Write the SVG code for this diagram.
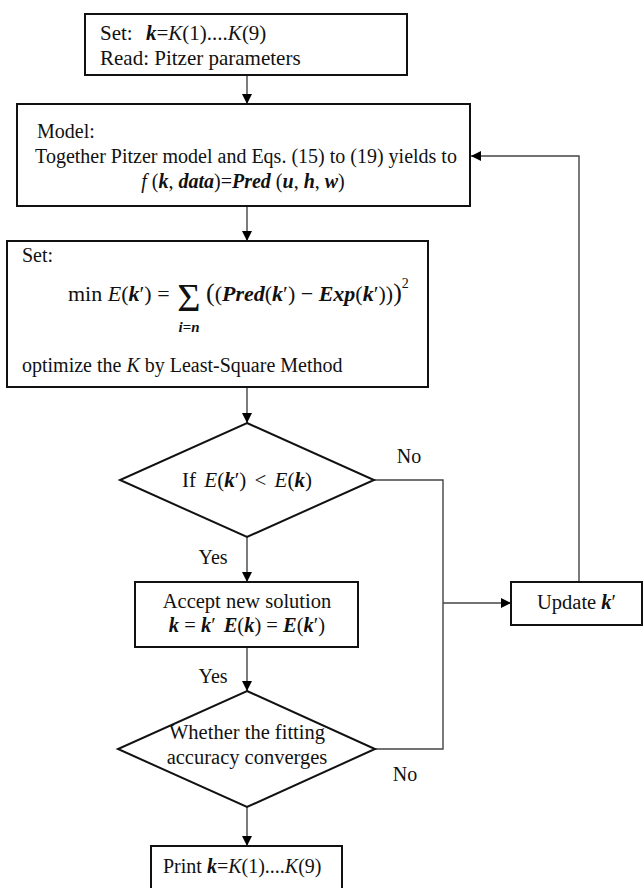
<svg xmlns="http://www.w3.org/2000/svg" width="644" height="888" viewBox="0 0 644 888">
<defs>
<style>
.box{fill:#fff;stroke:#111;stroke-width:2}
.conn{fill:none;stroke:#444;stroke-width:1.4}
.t{font-family:"Liberation Serif","Times New Roman",serif;font-size:20px;fill:#111}
.c{font-family:"Liberation Serif","DejaVu Serif",serif;font-size:20.5px;fill:#111}
.bi{font-weight:bold;font-style:italic}
.i{font-style:italic}
.lbl{font-family:"Liberation Serif","Times New Roman",serif;font-size:20px;fill:#111}
</style>
<marker id="ah" viewBox="0 0 10 10" refX="10" refY="5" markerWidth="10" markerHeight="10" markerUnits="userSpaceOnUse" orient="auto">
<path d="M0,0 L10,5 L0,10 z" fill="#000"/>
</marker>
</defs>
<rect width="644" height="888" fill="#fff"/>

<g id="connectors">
<line class="conn" x1="247" y1="75" x2="247" y2="104" marker-end="url(#ah)"/>
<line class="conn" x1="247" y1="206" x2="247" y2="241" marker-end="url(#ah)"/>
<line class="conn" x1="247" y1="387" x2="247" y2="423" marker-end="url(#ah)"/>
<line class="conn" x1="247" y1="537" x2="247" y2="582" marker-end="url(#ah)"/>
<line class="conn" x1="247" y1="647" x2="247" y2="691" marker-end="url(#ah)"/>
<line class="conn" x1="247" y1="807" x2="247" y2="846" marker-end="url(#ah)"/>
<polyline class="conn" points="374,480 443,480 443,749 375,749"/>
<line class="conn" x1="443" y1="603" x2="511" y2="603" marker-end="url(#ah)"/>
<polyline class="conn" points="579,582 579,156 471,156" marker-end="url(#ah)"/>
<text class="lbl" x="409" y="463" text-anchor="middle">No</text>
<text class="lbl" x="213" y="564" text-anchor="middle">Yes</text>
<text class="lbl" x="213" y="683" text-anchor="middle">Yes</text>
<text class="lbl" x="405" y="781" text-anchor="middle">No</text>
</g>

<g id="set-k">
<rect class="box" x="85" y="14" width="322" height="61"/>
<text class="t" x="100" y="40" style="font-size:21px">Set:<tspan x="146" class="bi">k</tspan>=<tspan class="i">K</tspan>(1)....<tspan class="i">K</tspan>(9)</text>
<text class="t" x="100" y="65" style="font-size:21px">Read: Pitzer parameters</text>
</g>

<g id="model">
<rect class="box" x="17" y="104" width="453" height="102"/>
<text class="t" x="37" y="138">Model:</text>
<text class="t" x="246" y="163" text-anchor="middle">Together Pitzer model and Eqs. (15) to (19) yields to</text>
<text class="t" x="243" y="188" text-anchor="middle"><tspan class="i">f</tspan> (<tspan class="bi">k</tspan>, <tspan class="bi">data</tspan>)=<tspan class="bi">Pred</tspan> (<tspan class="bi">u</tspan>, <tspan class="bi">h</tspan>, <tspan class="bi">w</tspan>)</text>
</g>

<g id="objective">
<rect class="box" x="7" y="241" width="421" height="146"/>
<text class="t" x="22" y="262">Set:</text>
<text class="c" x="68" y="301" style="font-size:22px">min <tspan class="i">E</tspan>(<tspan class="bi">k</tspan>′) =</text>
<text class="c" x="189" y="311" style="font-size:40px" text-anchor="middle">Σ</text>
<text class="c" x="189" y="332" style="font-size:15px;font-weight:bold" text-anchor="middle"><tspan class="i">i</tspan>=<tspan class="i">n</tspan></text>
<text class="c" x="206" y="301" style="font-size:22px"><tspan style="font-size:26px">(</tspan>(<tspan class="bi">Pred</tspan>(<tspan class="bi">k</tspan>′) − <tspan class="bi">Exp</tspan>(<tspan class="bi">k</tspan>′))<tspan style="font-size:26px">)</tspan><tspan style="font-size:14px" dy="-13">2</tspan></text>
<text class="t" x="22" y="372">optimize the <tspan class="i">K</tspan> by Least-Square Method</text>
</g>

<g id="decision-error">
<polygon class="box" points="247,423 374,480 247,537 120,480"/>
<text class="c" x="247" y="487" text-anchor="middle" style="font-size:21px;word-spacing:3px">If <tspan class="i">E</tspan>(<tspan class="bi">k</tspan>′) &lt; <tspan class="i">E</tspan>(<tspan class="bi">k</tspan>)</text>
</g>

<g id="accept">
<rect class="box" x="135" y="582" width="223" height="65"/>
<text class="c" x="247" y="608" text-anchor="middle">Accept new solution</text>
<text class="c" x="247" y="632" text-anchor="middle"><tspan class="bi">k</tspan> = <tspan class="bi">k</tspan>′<tspan dx="8" class="bi">E</tspan>(<tspan class="bi">k</tspan>) = <tspan class="bi">E</tspan>(<tspan class="bi">k</tspan>′)</text>
</g>

<g id="update">
<rect class="box" x="511" y="582" width="131" height="43"/>
<text class="c" x="537" y="609">Update <tspan class="bi">k</tspan>′</text>
</g>

<g id="decision-converge">
<polygon class="box" points="247,691 375,749 247,807 118,749"/>
<text class="c" x="247" y="739" text-anchor="middle">Whether the fitting</text>
<text class="c" x="247" y="764" text-anchor="middle">accuracy converges</text>
</g>

<g id="print">
<rect class="box" x="151" y="846" width="191" height="60"/>
<text class="t" x="163" y="873">Print <tspan class="bi">k</tspan>=<tspan class="i">K</tspan>(1)....<tspan class="i">K</tspan>(9)</text>
</g>
</svg>
